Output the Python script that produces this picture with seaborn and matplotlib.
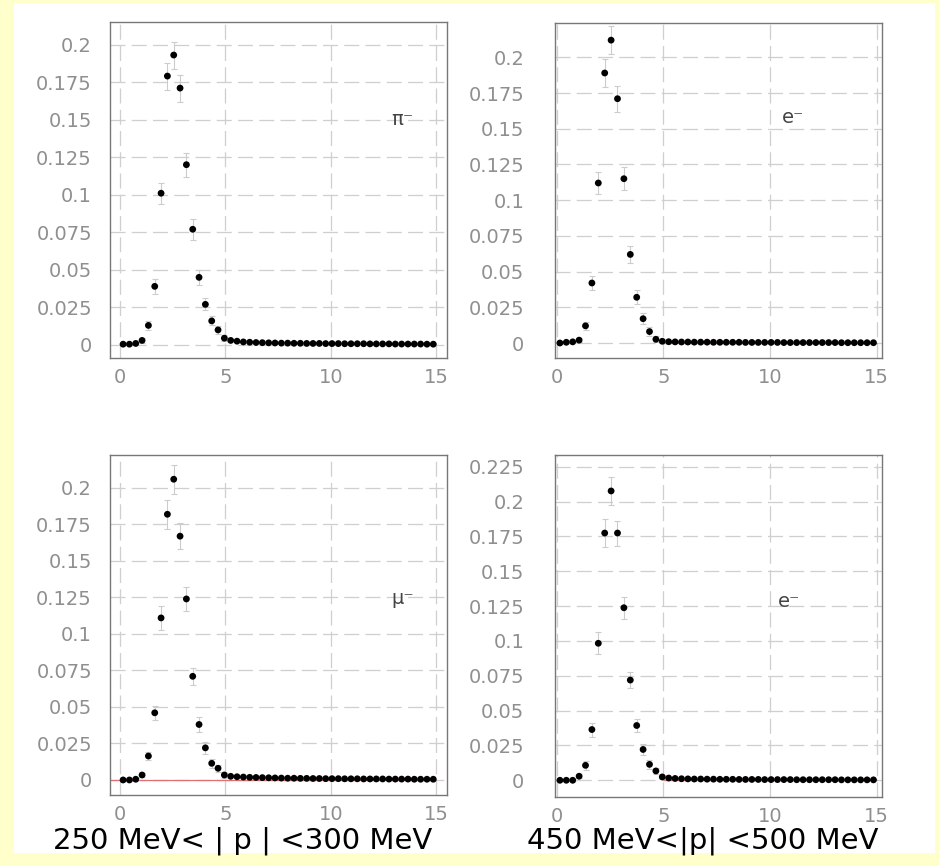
import numpy as np
import pandas as pd
import matplotlib
matplotlib.use("Agg")
import matplotlib.pyplot as plt
from matplotlib.patches import Rectangle
from matplotlib.ticker import AutoMinorLocator, MultipleLocator
import seaborn as sns

# ---- data: normalised distributions in 0.3-wide bins ----
bin_centers = np.round(np.arange(0.15, 15.0, 0.3), 2)

pi_minus = [0.0005, 0.0005, 0.0010, 0.0030, 0.0130, 0.0390, 0.1010, 0.1790, 0.1930, 0.1710,
            0.1200, 0.0770, 0.0450, 0.0270, 0.0160, 0.0100, 0.0045, 0.0030, 0.0025, 0.0020,
            0.0018, 0.0016, 0.0015, 0.0014, 0.0013, 0.0012, 0.0012, 0.0011, 0.0011, 0.0010,
            0.0010, 0.0010, 0.0009, 0.0009, 0.0009, 0.0008, 0.0008, 0.0008, 0.0008, 0.0007,
            0.0007, 0.0007, 0.0007, 0.0006, 0.0006, 0.0006, 0.0006, 0.0006, 0.0005, 0.0005]

e_minus_hi = [0.0000, 0.0005, 0.0008, 0.0020, 0.0120, 0.0420, 0.1120, 0.1890, 0.2120, 0.1710,
              0.1150, 0.0620, 0.0320, 0.0170, 0.0080, 0.0026, 0.0012, 0.0009, 0.0008, 0.0007,
              0.0007, 0.0006, 0.0006, 0.0006, 0.0005, 0.0005, 0.0005, 0.0005, 0.0005, 0.0004,
              0.0004, 0.0004, 0.0004, 0.0004, 0.0004, 0.0003, 0.0003, 0.0003, 0.0003, 0.0003,
              0.0003, 0.0003, 0.0003, 0.0003, 0.0002, 0.0002, 0.0002, 0.0002, 0.0002, 0.0002]

mu_minus = [0.0000, 0.0000, 0.0005, 0.0034, 0.0164, 0.0460, 0.1110, 0.1820, 0.2060, 0.1670,
            0.1240, 0.0710, 0.0380, 0.0220, 0.0114, 0.0080, 0.0034, 0.0025, 0.0022, 0.0020,
            0.0018, 0.0017, 0.0016, 0.0015, 0.0014, 0.0013, 0.0012, 0.0012, 0.0011, 0.0011,
            0.0010, 0.0010, 0.0009, 0.0009, 0.0009, 0.0008, 0.0008, 0.0008, 0.0007, 0.0007,
            0.0007, 0.0007, 0.0006, 0.0006, 0.0006, 0.0006, 0.0005, 0.0005, 0.0005, 0.0005]

e_minus_lo = [0.0000, 0.0000, 0.0000, 0.0029, 0.0107, 0.0364, 0.0983, 0.1774, 0.2076, 0.1774,
              0.1238, 0.0719, 0.0393, 0.0221, 0.0114, 0.0067, 0.0024, 0.0016, 0.0013, 0.0011,
              0.0010, 0.0009, 0.0009, 0.0008, 0.0008, 0.0007, 0.0007, 0.0007, 0.0006, 0.0006,
              0.0006, 0.0006, 0.0005, 0.0005, 0.0005, 0.0005, 0.0005, 0.0004, 0.0004, 0.0004,
              0.0004, 0.0004, 0.0004, 0.0004, 0.0003, 0.0003, 0.0003, 0.0003, 0.0003, 0.0003]

# statistical errors on the rising/peak bins
pi_minus_err = [0.0005, 0.0005, 0.0008, 0.0015, 0.0030, 0.0050, 0.0070, 0.0090, 0.0090, 0.0090,
                0.0080, 0.0070, 0.0050, 0.0040, 0.0030, 0.0025, 0.0020]
e_minus_hi_err = [0.0005, 0.0005, 0.0008, 0.0015, 0.0030, 0.0050, 0.0080, 0.0100, 0.0100, 0.0090,
                  0.0080, 0.0060, 0.0050, 0.0040, 0.0030, 0.0020, 0.0015]
mu_minus_err = [0.0005, 0.0005, 0.0008, 0.0015, 0.0030, 0.0050, 0.0080, 0.0100, 0.0100, 0.0090,
                0.0080, 0.0060, 0.0050, 0.0040, 0.0030, 0.0025, 0.0020]
e_minus_lo_err = [0.0005, 0.0005, 0.0008, 0.0015, 0.0030, 0.0050, 0.0080, 0.0100, 0.0100, 0.0090,
                  0.0080, 0.0060, 0.0050, 0.0040, 0.0030, 0.0020, 0.0015]

particle_labels = ["\u03c0\u207b", "e\u207b", "\u03bc\u207b", "e\u207b"]
range_captions = ["250 MeV< | p | <300 MeV", "450 MeV<|p| <500 MeV"]

x_tick_values = [0, 5, 10, 15]
x_tick_labels = ["0", "5", "10", "15"]
y_tick_values_a = [0, 0.025, 0.05, 0.075, 0.1, 0.125, 0.15, 0.175, 0.2]
y_tick_labels_a = ["0", "0.025", "0.05", "0.075", "0.1", "0.125", "0.15", "0.175", "0.2"]
y_tick_values_b = [0, 0.025, 0.05, 0.075, 0.1, 0.125, 0.15, 0.175, 0.2, 0.225]
y_tick_labels_b = ["0", "0.025", "0.05", "0.075", "0.1", "0.125", "0.15", "0.175", "0.2", "0.225"]

# ---- style ----
sns.set_style("white")
plt.rcParams["font.family"] = ["DejaVu Sans"]

W, H = 939, 866
fig = plt.figure(figsize=(W / 100, H / 100), dpi=100)
fig.patch.set_facecolor("#FFFFCC")
fig.add_artist(Rectangle((14 / W, 1 - 853 / H), (935 - 14) / W, (853 - 3) / H,
                         transform=fig.transFigure, facecolor="white",
                         edgecolor="none", zorder=0))


def px_rect(left, top, right, bottom):
    return [left / W, 1 - bottom / H, (right - left) / W, (bottom - top) / H]


panels = [
    dict(rect=px_rect(110, 22, 447, 358), xlim=(-0.47, 15.5), ylim=(-0.0087, 0.215),
         y=pi_minus, err=pi_minus_err, yt=(y_tick_values_a, y_tick_labels_a),
         lab=particle_labels[0], lab_xy=(13.4, 0.150), red_from=None, ypad=13),
    dict(rect=px_rect(555, 23, 882, 358), xlim=(-0.08, 15.25), ylim=(-0.0105, 0.224),
         y=e_minus_hi, err=e_minus_hi_err, yt=(y_tick_values_a, y_tick_labels_a),
         lab=particle_labels[1], lab_xy=(11.1, 0.158), red_from=5.0, ypad=22),
    dict(rect=px_rect(110, 455, 447, 795), xlim=(-0.47, 15.5), ylim=(-0.0103, 0.2226),
         y=mu_minus, err=mu_minus_err, yt=(y_tick_values_a, y_tick_labels_a),
         lab=particle_labels[2], lab_xy=(13.4, 0.124), red_from=-0.47, ypad=13),
    dict(rect=px_rect(555, 455, 882, 797), xlim=(-0.08, 15.25), ylim=(-0.012, 0.2334),
         y=e_minus_lo, err=e_minus_lo_err, yt=(y_tick_values_b, y_tick_labels_b),
         lab=particle_labels[3], lab_xy=(10.9, 0.128), red_from=5.0, ypad=22),
]

for p in panels:
    ax = fig.add_axes(p["rect"])
    ax.set_facecolor("white")
    df = pd.DataFrame({"x": bin_centers, "y": p["y"]})
    n_err = len(p["err"])

    ax.set_xticks(x_tick_values)
    ax.set_xticklabels(x_tick_labels)
    ax.set_yticks(p["yt"][0])
    ax.set_yticklabels(p["yt"][1])
    ax.xaxis.set_minor_locator(MultipleLocator(1))
    ax.yaxis.set_minor_locator(AutoMinorLocator(5))
    ax.grid(True, which="major", color="#cfcfcf", linestyle=(0, (12, 5)), linewidth=0.9)
    ax.set_axisbelow(True)

    # fit curve on the tail
    if p["red_from"] is not None:
        ax.hlines(0, p["red_from"], 15.0, color="#e07070", linewidth=0.9, zorder=2)

    ax.errorbar(df["x"][:n_err], df["y"][:n_err], yerr=p["err"], fmt="none",
                ecolor="#cccccc", elinewidth=0.8, capsize=2, capthick=0.8, zorder=2)
    sns.scatterplot(data=df, x="x", y="y", ax=ax, color="black", s=24,
                    edgecolor="none", zorder=3, legend=False)

    ax.set_xlim(*p["xlim"])
    ax.set_ylim(*p["ylim"])
    ax.set_xlabel("")
    ax.set_ylabel("")

    for s in ax.spines.values():
        s.set_color("#777777")
        s.set_linewidth(1.0)
    ax.tick_params(axis="both", which="major", direction="in", length=7, width=0.8,
                   color="#777777", labelcolor="#8f8f8f", labelsize=14)
    ax.tick_params(axis="both", which="minor", direction="in", length=3.5, width=0.6,
                   color="#999999")
    ax.tick_params(axis="y", pad=p["ypad"])
    ax.tick_params(axis="x", pad=7)

    ax.text(p["lab_xy"][0], p["lab_xy"][1], p["lab"], fontsize=14, color="#444444",
            ha="center", va="center")

# momentum-range captions under each column
fig.text(243 / W, 1 - 841 / H, range_captions[0], fontsize=21, color="black",
         ha="center", va="center")
fig.text(703 / W, 1 - 841 / H, range_captions[1], fontsize=21, color="black",
         ha="center", va="center")

fig.savefig("out.png", dpi=100, facecolor=fig.get_facecolor())
